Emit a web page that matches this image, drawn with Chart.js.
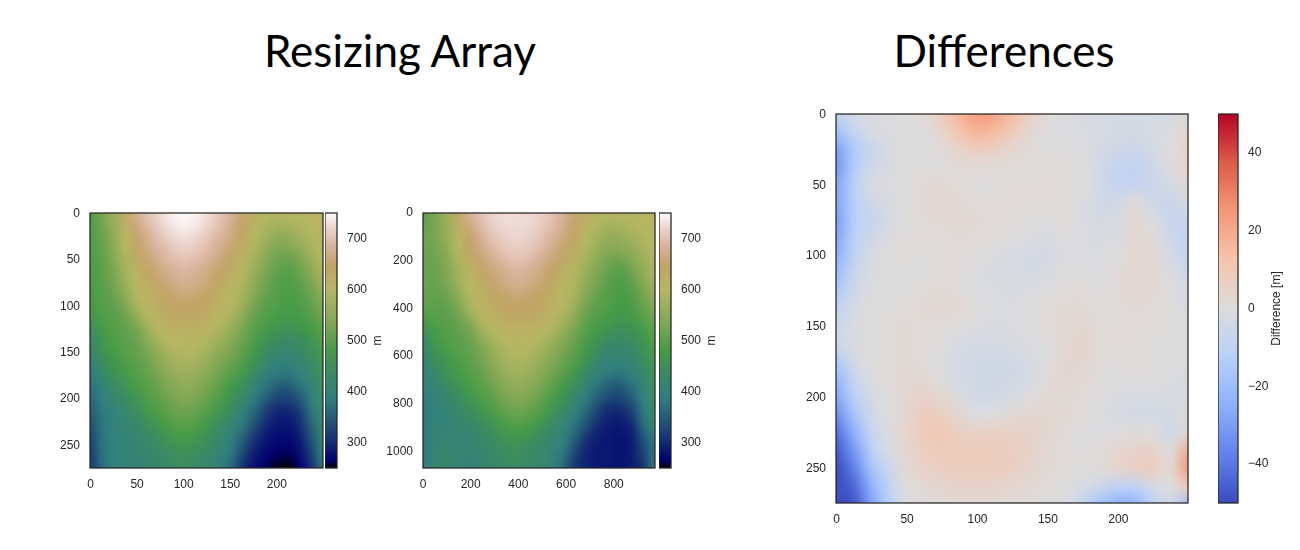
<!DOCTYPE html>
<html>
<head>
<meta charset="utf-8">
<title>Resizing Array</title>
<script src="https://cdn.jsdelivr.net/npm/chart.js@4"></script>
<style>
    body { margin: 0; background: #fff; width: 1300px; height: 550px; overflow: hidden; position: relative; }
    canvas { position: absolute; }
    .titulo { position: absolute; font-family: Lato, sans-serif; font-size: 44px; color: #000; transform: translateX(-50%); white-space: nowrap; line-height: 50px; }
</style>
</head>
<body>
<div class="titulo" style="left:400px;top:25px">Resizing Array</div>
<div class="titulo" style="left:1004px;top:25px">Differences</div>

<script>
// x and y of the grid nodes
const xOrig = [-0.5, 12.5, 25, 37.5, 50, 62.5, 75, 87.5, 100, 112.5, 125, 137.5, 150, 162.5, 175, 187.5, 200, 212.5, 225, 237.5, 250];
const yOrig = [-0.5, 12.5, 25, 37.5, 50, 62.5, 75, 87.5, 100, 112.5, 125, 137.5, 150, 162.5, 175, 187.5, 200, 212.5, 225, 237.5, 250, 262.5, 275];
const xResized = [0, 48.65, 97.3, 145.95, 194.6, 243.25, 291.9, 340.55, 389.2, 437.85, 486.5, 535.15, 583.8, 632.45, 681.1, 729.75, 778.4, 827.05, 875.7, 924.35, 973];
const yResized = [0, 48.6, 97.2, 145.8, 194.4, 243, 291.6, 340.2, 388.8, 437.4, 486, 534.6, 583.2, 631.8, 680.4, 729, 777.6, 826.2, 874.8, 923.4, 972, 1020.6, 1069];

// tick labels
const ticksX = [0, 50, 100, 150, 200];
const ticksY = [0, 50, 100, 150, 200, 250];
const ticksXResized = [0, 200, 400, 600, 800];
const ticksYResized = [0, 200, 400, 600, 800, 1000];
const ticksAltura = [300, 400, 500, 600, 700];
const ticksDiferenca = [-40, -20, 0, 20, 40];

const alturaOrig = [
    [490, 525, 565, 630, 680, 705, 725, 742, 750, 745, 730, 710, 685, 655, 620, 600, 595, 600, 603, 608, 615],
    [488, 520, 560, 620, 665, 695, 718, 735, 742, 737, 722, 702, 678, 648, 612, 590, 575, 578, 590, 600, 612],
    [487, 512, 552, 608, 650, 682, 705, 722, 730, 725, 710, 690, 668, 640, 600, 575, 555, 558, 575, 592, 608],
    [486, 507, 545, 595, 640, 670, 692, 708, 716, 712, 698, 678, 655, 628, 590, 560, 535, 535, 555, 580, 602],
    [485, 503, 538, 585, 625, 657, 680, 695, 703, 698, 685, 665, 640, 612, 578, 545, 515, 510, 535, 565, 595],
    [485, 500, 530, 575, 610, 640, 665, 680, 690, 684, 670, 650, 625, 597, 565, 530, 505, 498, 515, 550, 585],
    [485, 497, 522, 565, 600, 625, 652, 670, 678, 674, 660, 638, 612, 590, 555, 520, 497, 490, 502, 535, 570],
    [483, 495, 513, 548, 595, 612, 634, 652, 661, 657, 645, 622, 600, 580, 540, 510, 492, 487, 493, 518, 552],
    [478, 492, 503, 530, 585, 610, 628, 640, 645, 642, 635, 618, 598, 568, 525, 500, 488, 483, 488, 505, 535],
    [465, 487, 497, 515, 555, 595, 615, 628, 632, 630, 622, 605, 583, 550, 510, 490, 480, 472, 478, 495, 515],
    [445, 478, 493, 505, 525, 572, 600, 613, 615, 613, 607, 590, 565, 530, 497, 478, 462, 455, 462, 480, 500],
    [425, 468, 488, 500, 512, 548, 582, 600, 605, 602, 592, 572, 545, 515, 487, 460, 438, 432, 442, 465, 490],
    [412, 455, 478, 495, 507, 528, 562, 585, 593, 590, 575, 552, 528, 503, 475, 440, 420, 415, 425, 450, 478],
    [398, 438, 465, 485, 500, 518, 545, 570, 580, 575, 558, 535, 512, 490, 455, 420, 400, 398, 410, 435, 465],
    [385, 420, 450, 475, 493, 508, 530, 555, 565, 560, 542, 518, 497, 470, 430, 400, 380, 375, 395, 420, 455],
    [372, 405, 432, 458, 482, 498, 515, 538, 550, 545, 525, 502, 478, 445, 410, 375, 350, 345, 370, 405, 445],
    [360, 392, 415, 440, 465, 490, 505, 522, 535, 528, 510, 487, 458, 425, 388, 350, 325, 322, 345, 395, 435],
    [348, 382, 402, 425, 448, 475, 495, 510, 518, 512, 497, 470, 438, 405, 365, 325, 300, 298, 320, 380, 425],
    [338, 378, 398, 415, 432, 455, 478, 495, 503, 497, 477, 448, 420, 385, 345, 305, 288, 285, 305, 365, 418],
    [330, 375, 398, 410, 420, 437, 457, 477, 484, 477, 455, 432, 405, 365, 320, 292, 278, 276, 295, 350, 410],
    [322, 372, 398, 405, 413, 425, 440, 455, 463, 455, 440, 420, 392, 345, 302, 280, 270, 268, 283, 335, 400],
    [315, 370, 396, 403, 408, 417, 428, 440, 450, 440, 428, 408, 378, 325, 288, 270, 262, 260, 274, 320, 390],
    [308, 368, 395, 402, 405, 412, 422, 432, 442, 432, 422, 400, 368, 310, 278, 263, 252, 250, 266, 305, 380],
];

const alturaResized = [
    [500, 529, 566, 631, 680, 704, 720, 728, 726, 725, 718, 705, 684, 656, 622, 602, 598, 604, 606, 610, 614],
    [506, 528, 562, 621, 665, 695, 715, 725, 726, 724, 715, 700, 678, 649, 613, 592, 578, 581, 592, 601, 609],
    [517, 527, 559, 610, 650, 682, 704, 717, 722, 719, 707, 689, 668, 640, 601, 578, 560, 564, 578, 592, 603],
    [518, 521, 550, 597, 640, 670, 692, 707, 714, 711, 697, 678, 654, 627, 590, 564, 543, 544, 560, 581, 597],
    [513, 515, 540, 586, 625, 654, 677, 693, 703, 698, 684, 663, 638, 611, 578, 549, 523, 518, 541, 568, 593],
    [513, 513, 535, 577, 610, 637, 661, 677, 688, 683, 668, 648, 623, 596, 566, 534, 509, 497, 520, 556, 588],
    [515, 510, 530, 568, 600, 624, 650, 668, 676, 673, 659, 638, 612, 588, 556, 523, 499, 488, 503, 542, 577],
    [511, 506, 518, 549, 594, 611, 633, 650, 660, 656, 645, 623, 602, 580, 541, 512, 493, 484, 492, 523, 561],
    [503, 502, 505, 530, 584, 610, 627, 639, 645, 643, 637, 621, 601, 569, 526, 501, 488, 480, 486, 508, 543],
    [485, 494, 499, 515, 555, 595, 614, 627, 633, 632, 624, 608, 585, 550, 510, 491, 479, 469, 476, 496, 520],
    [460, 483, 494, 505, 525, 571, 598, 612, 616, 614, 609, 591, 565, 529, 496, 478, 461, 452, 460, 480, 503],
    [435, 471, 488, 500, 511, 546, 580, 598, 605, 603, 593, 572, 544, 513, 485, 460, 437, 430, 441, 465, 492],
    [418, 457, 478, 494, 505, 527, 561, 585, 594, 592, 576, 552, 527, 501, 472, 439, 419, 414, 424, 450, 479],
    [404, 440, 465, 484, 498, 517, 545, 572, 583, 578, 560, 536, 512, 488, 451, 419, 399, 397, 410, 435, 466],
    [400, 424, 450, 474, 491, 507, 531, 558, 569, 564, 546, 520, 497, 467, 427, 399, 380, 374, 395, 420, 456],
    [394, 413, 433, 457, 479, 496, 515, 541, 554, 549, 529, 504, 477, 442, 408, 375, 350, 345, 370, 406, 447],
    [388, 404, 418, 440, 462, 485, 502, 523, 539, 532, 512, 487, 456, 423, 387, 350, 327, 324, 347, 397, 438],
    [383, 400, 407, 425, 445, 467, 488, 507, 518, 512, 495, 467, 435, 403, 364, 326, 302, 301, 323, 383, 424],
    [382, 403, 406, 416, 428, 446, 468, 488, 497, 491, 471, 443, 417, 384, 345, 308, 292, 288, 305, 370, 415],
    [385, 407, 410, 412, 417, 430, 448, 469, 476, 469, 448, 427, 403, 364, 320, 294, 285, 283, 292, 350, 390],
    [388, 410, 416, 411, 411, 420, 433, 447, 455, 447, 433, 416, 390, 344, 302, 288, 283, 280, 288, 333, 375],
    [388, 412, 420, 412, 408, 415, 424, 435, 445, 435, 425, 406, 377, 325, 295, 287, 283, 281, 288, 320, 380],
    [385, 412, 423, 414, 406, 412, 421, 430, 440, 430, 421, 399, 368, 315, 295, 287, 283, 282, 288, 310, 400],
];

const diferenca = [
    [-10, -4, -1, -1, 0, 1, 8, 17, 24, 22, 14, 6, 1, -1, -2, -2, -3, -4, -3, -2, 1],
    [-18, -8, -2, -1, 0, 0, 4, 12, 17, 15, 9, 3, 0, -1, -1, -2, -3, -3, -2, -1, 3],
    [-30, -15, -7, -2, 0, 0, 1, 5, 8, 6, 3, 1, 0, 0, -1, -3, -5, -6, -3, 0, 5],
    [-32, -14, -5, -2, 0, 0, 0, 1, 2, 1, 1, 0, 1, 1, 0, -4, -8, -9, -5, -1, 5],
    [-28, -12, -2, -1, 0, 2, 2, 1, 0, 0, 1, 1, 1, 1, 0, -4, -8, -8, -6, -3, 2],
    [-28, -13, -5, -2, 0, 2, 3, 2, 1, 1, 1, 1, 1, 1, -1, -4, -4, 1, -5, -6, -3],
    [-30, -13, -8, -3, 0, 1, 2, 2, 2, 1, 1, 0, 0, 1, -1, -3, -2, 2, -1, -7, -7],
    [-28, -11, -5, -1, 1, 1, 1, 2, 1, 1, 0, -1, -2, 0, -1, -2, -1, 3, 1, -5, -9],
    [-25, -10, -2, 0, 1, 0, 1, 1, 0, -1, -2, -3, -3, -1, -1, -1, 0, 3, 2, -3, -8],
    [-20, -7, -2, 0, 0, 0, 1, 1, -1, -2, -2, -3, -2, 0, 0, -1, 1, 3, 2, -1, -5],
    [-15, -5, -1, 0, 0, 1, 2, 1, -1, -1, -2, -1, 0, 1, 1, 0, 1, 3, 2, 0, -3],
    [-10, -3, 0, 0, 1, 2, 2, 2, 0, -1, -1, 0, 1, 2, 2, 0, 1, 2, 1, 0, -2],
    [-6, -2, 0, 1, 2, 1, 1, 0, -1, -2, -1, 0, 1, 2, 3, 1, 1, 1, 1, 0, -1],
    [-6, -2, 0, 1, 2, 1, 0, -2, -3, -3, -2, -1, 0, 2, 4, 1, 1, 1, 0, 0, -1],
    [-15, -4, 0, 1, 2, 1, -1, -3, -4, -4, -4, -2, 0, 3, 3, 1, 0, 1, 0, 0, -1],
    [-22, -8, -1, 1, 3, 2, 0, -3, -4, -4, -4, -2, 1, 3, 2, 0, 0, 0, 0, -1, -2],
    [-28, -12, -3, 0, 3, 5, 3, -1, -4, -4, -2, 0, 2, 2, 1, 0, -2, -2, -2, -2, -3],
    [-35, -18, -5, 0, 3, 8, 7, 3, 0, 0, 2, 3, 3, 2, 1, -1, -2, -3, -3, -3, 1],
    [-42, -25, -8, -1, 4, 9, 10, 7, 6, 6, 6, 5, 3, 1, 0, -1, 0, 1, 0, -5, 3],
    [-47, -32, -12, -2, 3, 7, 9, 8, 8, 8, 7, 5, 2, 1, 0, 1, 3, 5, 5, 0, 20],
    [-50, -38, -18, -6, 2, 5, 7, 8, 8, 8, 7, 4, 2, 1, 0, 1, 4, 6, 8, 2, 25],
    [-50, -44, -24, -9, 0, 2, 4, 5, 5, 5, 3, 2, 1, 0, -2, -6, -10, -9, -3, 0, 10],
    [-50, -48, -28, -12, -1, 0, 1, 2, 2, 2, 1, 1, 0, -1, -8, -18, -23, -22, -10, -5, -20],
];

// colormaps: position 0-1, then r g b
const gistEarth = [
    [0, 0, 0, 0], [0.03, 0, 0, 112], [0.11, 22, 48, 116], [0.165, 31, 77, 118], [0.21, 39, 98, 120],
    [0.28, 48, 128, 128], [0.37, 58, 138, 100], [0.46, 69, 155, 70], [0.55, 120, 165, 82],
    [0.7, 183, 183, 98], [0.79, 193, 163, 101], [0.87, 216, 178, 154], [0.894, 223, 189, 170], [0.94, 235, 211, 204], [1, 253, 251, 251],
];
const coolwarm = [
    [0, 59, 76, 192], [0.125, 98, 130, 234], [0.25, 141, 176, 254], [0.375, 184, 208, 249], [0.5, 221, 220, 220],
    [0.625, 245, 196, 172], [0.75, 244, 152, 122], [0.875, 220, 93, 74], [1, 180, 4, 38],
];

function corDoMapa(mapa, t) {
    t = Math.min(1, Math.max(0, t));
    for (let i = 1; i < mapa.length; i++) {
        if (t <= mapa[i][0]) {
            const a = mapa[i - 1], b = mapa[i];
            const f = (t - a[0]) / (b[0] - a[0]);
            return [a[1] + (b[1] - a[1]) * f, a[2] + (b[2] - a[2]) * f, a[3] + (b[3] - a[3]) * f];
        }
    }
    return mapa[mapa.length - 1].slice(1);
}

const corEixo = '#262626';
const fonte = { family: '"Liberation Sans", Arial, sans-serif', size: 12 };

// paints the grid on a small canvas and stretches it between the scale positions
const pluginCalor = {
    id: 'calor',
    beforeDatasetsDraw(chart) {
        const ds = chart.data.datasets[0];
        if (!ds.grade) return;
        const { xs, ys, mapa, vmin, vmax } = ds.grade;
        const off = document.createElement('canvas');
        off.width = xs.length;
        off.height = ys.length;
        const octx = off.getContext('2d');
        const img = octx.createImageData(xs.length, ys.length);
        ds.data.forEach((p, i) => {
            const c = corDoMapa(mapa, (p.v - vmin) / (vmax - vmin));
            img.data.set([c[0], c[1], c[2], 255], i * 4);
        });
        octx.putImageData(img, 0, 0);
        const sx = chart.scales.x, sy = chart.scales.y, area = chart.chartArea, ctx = chart.ctx;
        const x0 = sx.getPixelForValue(xs[0]), x1 = sx.getPixelForValue(xs[xs.length - 1]);
        const y0 = sy.getPixelForValue(ys[0]), y1 = sy.getPixelForValue(ys[ys.length - 1]);
        ctx.save();
        ctx.beginPath();
        ctx.rect(area.left, area.top, area.width, area.height);
        ctx.clip();
        ctx.imageSmoothingEnabled = true;
        ctx.imageSmoothingQuality = 'high';
        ctx.drawImage(off, 0.5, 0.5, xs.length - 1, ys.length - 1, x0, y0, x1 - x0, y1 - y0);
        ctx.restore();
    },
    afterDraw(chart) {
        const a = chart.chartArea, ctx = chart.ctx;
        ctx.save();
        ctx.strokeStyle = corEixo;
        ctx.lineWidth = 1.25;
        ctx.strokeRect(a.left, a.top, a.width, a.height);
        const rotulo = chart.options.plugins.calor.rotulo;
        if (rotulo) {
            ctx.fillStyle = corEixo;
            ctx.font = fonte.size + 'px ' + fonte.family;
            ctx.textAlign = 'center';
            ctx.textBaseline = 'middle';
            ctx.translate(rotulo.x, (a.top + a.bottom) / 2);
            ctx.rotate(-Math.PI / 2);
            ctx.fillText(rotulo.texto, 0, 0);
        }
        ctx.restore();
    }
};

function novaCanvas(left, top, w, h) {
    const c = document.createElement('canvas');
    c.width = w;
    c.height = h;
    c.style.left = left + 'px';
    c.style.top = top + 'px';
    document.body.appendChild(c);
    return c;
}

function fixarTicks(lista) {
    return s => { s.ticks = lista.map(v => ({ value: v })); };
}

// no extra room for the tick labels, the plot has to keep its box
function semFolga(s) {
    s.paddingTop = 0;
    s.paddingBottom = 0;
    s.paddingLeft = 0;
    s.paddingRight = 0;
}

function mapaCalor(caixa, xs, ys, valores, mapa, vmin, vmax, xMax, yMax, tx, ty) {
    const ctx = novaCanvas(caixa.left - 50, caixa.top - 10, caixa.w + 65, caixa.h + 40);
    const pontos = [];
    ys.forEach((y, j) => xs.forEach((x, i) => pontos.push({ x: x, y: y, v: valores[j][i] })));
    new Chart(ctx, {
        type: 'scatter',
        data: { datasets: [{ data: pontos, pointRadius: 0, grade: { xs, ys, mapa, vmin, vmax } }] },
        options: {
            responsive: false,
            animation: false,
            layout: { padding: { top: 10, right: 15, left: 0, bottom: 0 } },
            plugins: { legend: { display: false }, tooltip: { enabled: false }, calor: {} },
            scales: {
                x: {
                    type: 'linear', min: xs[0], max: xMax,
                    grid: { display: false, drawTicks: false }, border: { display: false },
                    afterBuildTicks: fixarTicks(tx),
                    ticks: { color: corEixo, font: fonte, padding: 9, maxRotation: 0, callback: v => String(v) },
                    afterFit(s) { s.height = 30; semFolga(s); }
                },
                y: {
                    type: 'linear', reverse: true, min: ys[0], max: yMax,
                    grid: { display: false, drawTicks: false }, border: { display: false },
                    afterBuildTicks: fixarTicks(ty),
                    ticks: { color: corEixo, font: fonte, padding: 10, callback: v => String(v) },
                    afterFit(s) { s.width = 50; semFolga(s); }
                }
            }
        },
        plugins: [pluginCalor]
    });
}

function barraCor(caixa, mapa, vmin, vmax, lista, rotulo, rotuloX) {
    const ctx = novaCanvas(caixa.left, caixa.top - 10, caixa.w + 70, caixa.h + 20);
    new Chart(ctx, {
        type: 'bar',
        data: {
            labels: [''],
            datasets: [{
                data: [[vmin, vmax]],
                barPercentage: 1,
                categoryPercentage: 1,
                backgroundColor(c) {
                    const a = c.chart.chartArea;
                    if (!a) return '#fff';
                    const g = c.chart.ctx.createLinearGradient(0, a.bottom, 0, a.top);
                    mapa.forEach(m => g.addColorStop(m[0], `rgb(${m[1]},${m[2]},${m[3]})`));
                    return g;
                }
            }]
        },
        options: {
            responsive: false,
            animation: false,
            layout: { padding: { top: 10, bottom: 10, left: 0, right: 0 } },
            plugins: { legend: { display: false }, tooltip: { enabled: false }, calor: { rotulo: { texto: rotulo, x: rotuloX } } },
            scales: {
                x: { display: false },
                y: {
                    position: 'right', min: vmin, max: vmax,
                    grid: { display: false, drawTicks: false }, border: { display: false },
                    afterBuildTicks: fixarTicks(lista),
                    ticks: {
                        color: corEixo, font: fonte, padding: 10,
                        callback: v => String(v).replace('-', '\u2212')
                    },
                    afterFit(s) { s.width = 70; semFolga(s); }
                }
            }
        },
        plugins: [pluginCalor]
    });
}

mapaCalor({ left: 90, top: 213, w: 233, h: 255 }, xOrig, yOrig, alturaOrig, gistEarth, 250, 750, 249.5, 274.5, ticksX, ticksY);
barraCor({ left: 325, top: 213, w: 12, h: 255 }, gistEarth, 250, 750, ticksAltura, 'm', 53);

mapaCalor({ left: 423, top: 213, w: 232, h: 255 }, xResized, yResized, alturaResized, gistEarth, 250, 750, 973, 1069, ticksXResized, ticksYResized);
barraCor({ left: 659, top: 213, w: 12, h: 255 }, gistEarth, 250, 750, ticksAltura, 'm', 53);

mapaCalor({ left: 836, top: 114, w: 352, h: 389 }, xOrig, yOrig, diferenca, coolwarm, -50, 50, 249.5, 274.5, ticksX, ticksY);
barraCor({ left: 1218, top: 114, w: 20, h: 389 }, coolwarm, -50, 50, ticksDiferenca, 'Difference [m]', 59);
</script>
</body>
</html>
